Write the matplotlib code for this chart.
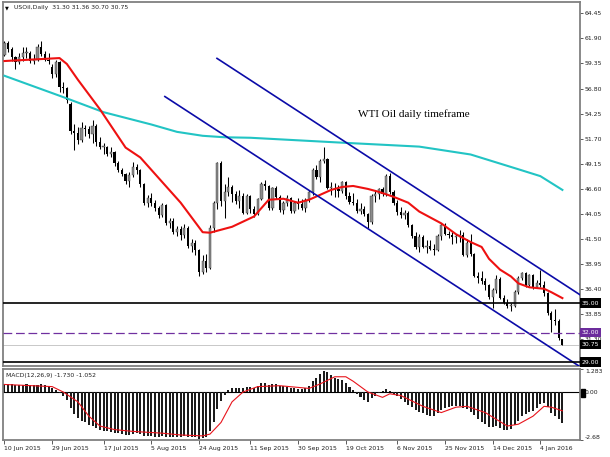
import numpy as np
import matplotlib
import matplotlib.pyplot as plt
from matplotlib.patches import Rectangle

matplotlib.use('Agg')
plt.rcParams['font.family'] = ['DejaVu Sans']

# daily bars, 10 Jun 2015 .. 12 Jan 2016
opens = [60.2, 61.4, 60.8, 60.0, 59.5, 60.0, 60.4, 60.4, 59.6, 59.7,
         61.0, 60.3, 59.7, 59.0, 58.3, 59.5, 57.0, 56.9, 55.2, 52.5,
         52.3, 51.6, 52.8, 52.7, 52.2, 53.0, 51.4, 50.9, 50.9, 50.2,
         50.4, 49.2, 48.5, 48.1, 47.4, 48.0, 48.8, 48.5, 47.1, 45.2,
         45.7, 45.2, 44.7, 43.9, 45.0, 43.1, 43.3, 42.2, 42.5, 41.9,
         42.6, 40.8, 41.1, 40.4, 38.2, 39.3, 38.6, 42.6, 45.2, 49.2,
         45.4, 46.3, 46.8, 46.1, 45.4, 45.9, 44.2, 45.9, 44.6, 44.0,
         45.6, 47.1, 46.9, 44.7, 46.7, 45.8, 44.5, 45.2, 45.7, 44.4,
         45.2, 45.1, 44.7, 45.5, 46.3, 48.5, 47.8, 49.4, 49.6, 46.7,
         46.7, 46.6, 46.4, 47.3, 45.9, 45.3, 45.2, 44.4, 44.6, 44.0,
         43.2, 45.9, 46.1, 46.6, 46.1, 47.9, 46.3, 45.2, 44.3, 43.9,
         44.2, 42.9, 41.8, 40.7, 41.7, 40.7, 40.8, 40.5, 40.4, 41.8,
         42.9, 42.0, 41.9, 41.7, 41.7, 41.9, 39.9, 41.1, 40.0, 37.7,
         37.5, 37.2, 36.8, 35.6, 36.3, 37.4, 35.5, 35.0, 34.7, 34.7,
         36.1, 37.5, 38.1, 36.8, 37.9, 36.6, 37.0, 36.8, 36.0, 34.0,
         33.3, 33.2, 31.30]
highs = [61.6, 61.6, 61.0, 60.1, 60.4, 61.0, 61.0, 60.6, 60.3, 61.3,
         61.6, 60.6, 60.4, 59.3, 59.7, 59.6, 57.5, 57.0, 55.4, 53.2,
         52.9, 53.4, 53.1, 53.0, 53.6, 53.2, 51.9, 51.3, 51.0, 50.9,
         50.5, 49.4, 48.7, 48.2, 48.3, 49.3, 49.1, 48.6, 47.2, 46.0,
         46.2, 45.5, 44.9, 45.2, 45.1, 43.6, 43.6, 42.8, 42.8, 43.0,
         42.8, 41.5, 41.4, 40.5, 39.9, 40.0, 42.9, 45.4, 49.3, 49.4,
         47.1, 47.8, 47.0, 46.4, 46.5, 46.2, 46.1, 46.0, 44.9, 45.7,
         47.3, 47.5, 47.0, 46.8, 46.9, 46.0, 45.4, 46.0, 45.8, 45.4,
         45.7, 45.6, 45.7, 46.5, 48.7, 49.0, 49.6, 50.9, 49.7, 47.3,
         47.2, 47.0, 47.4, 47.4, 46.3, 46.2, 45.6, 45.2, 44.9, 44.2,
         46.1, 46.5, 46.7, 46.8, 48.1, 48.2, 46.5, 45.5, 44.8, 44.5,
         44.4, 43.0, 42.2, 42.0, 41.9, 41.4, 41.4, 41.0, 42.0, 43.1,
         43.1, 42.3, 42.2, 42.0, 42.4, 42.2, 41.5, 42.0, 40.1, 38.2,
         38.3, 37.5, 36.9, 36.5, 37.8, 37.6, 35.8, 35.4, 35.0, 36.3,
         37.7, 38.2, 38.2, 38.0, 38.0, 37.3, 38.4, 37.2, 36.1, 34.2,
         34.4, 33.4, 31.36]
lows = [60.1, 60.5, 59.6, 58.8, 59.3, 59.6, 59.9, 59.4, 59.3, 59.6,
        60.1, 59.6, 59.3, 57.9, 58.0, 56.5, 56.4, 55.3, 52.2, 50.6,
        51.2, 51.4, 52.0, 51.8, 51.3, 51.0, 50.7, 50.2, 49.9, 49.8,
        48.9, 48.3, 47.9, 47.1, 46.8, 47.8, 48.1, 46.8, 45.0, 44.8,
        44.9, 44.4, 43.6, 43.7, 42.9, 42.6, 42.0, 41.8, 41.4, 41.6,
        40.6, 40.2, 39.9, 37.7, 38.0, 38.2, 38.5, 42.2, 44.6, 44.9,
        43.6, 45.9, 45.3, 45.1, 44.7, 44.1, 44.0, 44.2, 43.7, 43.9,
        45.5, 46.5, 44.5, 44.5, 45.6, 44.3, 44.0, 44.9, 44.2, 44.2,
        44.6, 44.5, 44.3, 45.3, 46.0, 47.6, 47.3, 49.2, 46.6, 46.0,
        45.8, 45.8, 46.2, 45.6, 45.1, 45.0, 44.2, 44.1, 43.8, 42.6,
        43.0, 45.3, 45.6, 45.9, 45.9, 46.1, 45.0, 43.9, 43.6, 43.5,
        42.7, 41.6, 40.5, 40.2, 40.6, 40.1, 40.4, 39.9, 40.3, 41.4,
        41.9, 41.6, 41.0, 41.1, 41.2, 39.8, 39.7, 39.8, 37.6, 37.0,
        36.9, 36.3, 35.4, 34.5, 36.0, 35.4, 34.9, 34.5, 34.2, 34.6,
        35.9, 37.3, 36.6, 36.7, 36.4, 36.5, 36.6, 35.7, 33.8, 32.1,
        32.8, 31.2, 30.70]
closes = [61.4, 60.8, 60.0, 59.5, 60.0, 60.4, 60.4, 59.6, 59.7, 61.0,
          60.3, 59.7, 59.6, 58.3, 59.5, 57.0, 56.9, 55.6, 52.5, 52.3,
          51.6, 52.8, 52.7, 52.2, 53.0, 51.4, 50.9, 50.9, 50.2, 50.4,
          49.2, 48.5, 48.1, 47.4, 48.0, 48.8, 48.5, 47.1, 45.2, 45.7,
          45.2, 44.7, 43.9, 45.0, 43.1, 43.3, 42.2, 42.5, 41.9, 42.6,
          40.8, 41.1, 40.4, 38.2, 39.3, 38.6, 42.6, 45.2, 49.2, 45.4,
          46.3, 46.8, 46.1, 45.4, 45.9, 44.2, 45.9, 44.6, 44.0, 45.6,
          47.1, 46.9, 44.7, 46.7, 45.8, 44.5, 45.2, 45.7, 44.4, 45.2,
          45.1, 44.7, 45.5, 46.3, 48.5, 47.8, 49.4, 49.6, 46.7, 46.7,
          46.6, 46.4, 47.3, 45.9, 45.3, 45.2, 44.4, 44.6, 44.0, 43.2,
          45.9, 46.1, 46.6, 46.1, 47.9, 46.3, 45.2, 44.3, 43.9, 44.2,
          42.9, 41.8, 40.7, 41.7, 40.7, 40.8, 40.5, 40.4, 41.8, 42.9,
          42.0, 41.9, 41.7, 41.7, 41.9, 39.9, 41.1, 40.0, 37.7, 37.5,
          37.2, 36.8, 35.6, 36.3, 37.4, 35.5, 35.0, 34.7, 34.7, 36.1,
          37.5, 38.1, 36.8, 37.9, 36.6, 37.0, 36.8, 36.0, 34.0, 33.3,
          33.2, 31.4, 30.75]

# moving averages (bar index, price)
red_ma_bars = [0, 15, 17, 20, 24, 26, 33, 37, 48, 54, 56, 59, 62, 68, 72, 76, 80, 83,
               86, 89, 92, 95, 99, 102, 106, 110, 113, 119, 123, 127, 130, 132, 135,
               138, 140, 143, 147, 149, 152]
red_ma = [59.6, 59.9, 59.3, 57.7, 55.7, 54.7, 50.8, 49.8, 45.2, 42.2, 42.15, 42.45, 42.75,
          43.8, 45.5, 45.6, 45.2, 45.5, 46.0, 46.5, 46.8, 46.9, 46.6, 46.3, 45.8, 45.2,
          44.3, 43.1, 42.0, 41.2, 40.7, 39.5, 38.4, 37.7, 37.0, 36.6, 36.45, 36.1, 35.5]
cyan_ma_bars = [0, 17, 27, 40, 47, 54, 60, 67, 92, 113, 127, 140, 146, 152]
cyan_ma = [58.1, 55.8, 54.4, 53.15, 52.4, 52.0, 51.85, 51.8, 51.3, 50.9, 50.1, 48.6, 47.9, 46.5]

# channel trend lines
upper_bars = [57.9, 156.8]
upper_prices = [59.87, 35.84]
lower_bars = [43.7, 156.8]
lower_prices = [55.99, 28.53]

macd_hist = [0.45, 0.44, 0.42, 0.40, 0.40, 0.41, 0.42, 0.40, 0.38, 0.40,
             0.42, 0.38, 0.33, 0.20, 0.10, -0.05, -0.20, -0.45, -0.90, -1.25,
             -1.45, -1.60, -1.70, -1.85, -1.90, -2.00, -2.10, -2.15, -2.20, -2.25,
             -2.30, -2.30, -2.35, -2.40, -2.40, -2.35, -2.30, -2.35, -2.45, -2.45,
             -2.45, -2.50, -2.50, -2.45, -2.50, -2.50, -2.50, -2.50, -2.50, -2.45,
             -2.50, -2.50, -2.50, -2.60, -2.55, -2.50, -2.20, -1.70, -0.95, -0.50,
             -0.15, 0.10, 0.20, 0.25, 0.25, 0.20, 0.30, 0.30, 0.25, 0.35,
             0.50, 0.50, 0.40, 0.45, 0.45, 0.35, 0.35, 0.30, 0.20, 0.20,
             0.15, 0.15, 0.20, 0.35, 0.60, 0.80, 1.00, 1.15, 1.10, 0.95,
             0.80, 0.70, 0.65, 0.50, 0.30, 0.10, -0.10, -0.30, -0.45, -0.55,
             -0.35, -0.20, -0.05, 0.05, 0.15, 0.05, -0.10, -0.25, -0.40, -0.55,
             -0.70, -0.85, -1.00, -1.10, -1.20, -1.30, -1.35, -1.35, -1.20, -1.00,
             -0.90, -0.85, -0.80, -0.80, -0.80, -0.90, -0.95, -1.10, -1.30, -1.50,
             -1.65, -1.80, -1.95, -1.95, -1.90, -2.00, -2.10, -2.10, -2.05, -1.85,
             -1.60, -1.35, -1.25, -1.10, -1.05, -0.90, -0.65, -0.60, -0.85, -1.15,
             -1.35, -1.50, -1.73]
signal_bars = [0, 13, 16, 20, 23, 26, 30, 35, 43, 48, 54, 56, 59, 62, 65, 69, 75, 83,
               86, 90, 93, 95, 99, 103, 105, 108, 114, 119, 123, 126, 131, 135, 137,
               140, 144, 147, 149, 152]
signal = [0.42, 0.30, 0.0, -0.55, -1.35, -1.90, -2.10, -2.20, -2.30, -2.40, -2.45,
          -2.35, -1.70, -0.55, 0.0, 0.30, 0.35, 0.20, 0.45, 0.85, 0.85, 0.60, 0.0,
          -0.30, -0.10, -0.20, -0.80, -1.15, -0.85, -0.80, -1.15, -1.65, -1.90, -1.80,
          -1.35, -0.80, -0.85, -1.05]

date_ticks = [0, 13, 27, 40, 53, 67, 80, 93, 107, 120, 133, 146]
date_labels = ['10 Jun 2015', '29 Jun 2015', '17 Jul 2015', '5 Aug 2015',
               '24 Aug 2015', '11 Sep 2015', '30 Sep 2015', '19 Oct 2015',
               '6 Nov 2015', '25 Nov 2015', '14 Dec 2015', '4 Jan 2016']
price_ticks = [64.45, 61.90, 59.35, 56.80, 54.25, 51.70, 49.15, 46.60, 44.05,
               41.50, 38.95, 36.40, 33.85, 31.30]

fig = plt.figure(figsize=(6.1, 4.57), dpi=100)
ax = fig.add_axes([3/610, 1 - 366/457, 577/610, 364/457])
ax2 = fig.add_axes([3/610, 1 - 440/457, 577/610, 71/457])

x = np.arange(len(closes))
o = np.array(opens)
c = np.array(closes)
up = c >= o
body = np.maximum(np.abs(c - o), 0.07)

ax.vlines(x, lows, highs, color='black', lw=0.75, zorder=2)
ax.bar(x[up], body[up], bottom=o[up], width=0.6, color='#8c8c8c',
       edgecolor='#3a3a3a', lw=0.3, zorder=3)
ax.bar(x[~up], body[~up], bottom=c[~up], width=0.6, color='black', zorder=3)

ax.plot(cyan_ma_bars, cyan_ma, color='#22c4c4', lw=1.5, zorder=4)
ax.plot(red_ma_bars, red_ma, color='#ee1111', lw=1.5, zorder=4)
ax.plot(upper_bars, upper_prices, color='#0b0ba8', lw=1.2, zorder=5)
ax.plot(lower_bars, lower_prices, color='#0b0ba8', lw=1.2, zorder=5)

ax.axhline(35.00, color='black', lw=1.2, zorder=5)
ax.axhline(29.00, color='black', lw=1.2, zorder=5)
ax.axhline(32.00, color='#7030a0', lw=0.9, dashes=(7, 3), zorder=5)
ax.axhline(30.75, color='#c8c8c8', lw=0.7, zorder=1)

ax.set_xlim(-0.4, 156.8)
ax.set_ylim(28.6, 65.6)
ax.set_xticks([])
ax.yaxis.tick_right()
ax.set_yticks(price_ticks)
ax.set_yticklabels([f'{p:.2f}' for p in price_ticks])
ax.tick_params(axis='y', direction='out', length=2, width=0.6, color='#404040',
               pad=1.5, labelsize=4.4, labelcolor='#202020')

for price, col in [(35.00, 'black'), (32.00, '#6c2c9c'), (30.75, 'black'), (29.00, 'black')]:
    ax.annotate(f'{price:.2f}', xy=(1, price), xycoords=('axes fraction', 'data'),
                xytext=(1.2, 0), textcoords='offset points', va='center', ha='left',
                color='white', fontsize=4.4, zorder=10, annotation_clip=False,
                bbox=dict(boxstyle='square,pad=0.35', fc=col, ec='none'))

ax.text(355/577, 1 - 112/364, 'WTI Oil daily timeframe', transform=ax.transAxes,
        family='Liberation Serif', fontsize=8, va='center', ha='left')

fig.text(5/610, 1 - 8/457, '\u25bc', fontsize=3.6, va='center', ha='left')
fig.text(14/610, 1 - 8/457, 'USOil,Daily  31.30 31.36 30.70 30.75', fontsize=4.4,
         va='center', ha='left', color='#202020')

# MACD window
ax2.bar(x, macd_hist, width=0.55, color='#1c1c1c', zorder=2)
ax2.plot(signal_bars, signal, color='#e8141c', lw=0.8, zorder=3)
ax2.axhline(0, color='black', lw=0.8, zorder=1)
ax2.set_xlim(-0.4, 156.8)
ax2.set_ylim(-2.68, 1.283)
ax2.yaxis.tick_right()
ax2.set_yticks([1.283, 0, -2.68])
ax2.set_yticklabels(['1.283', '0.00', '-2.68'])
ax2.tick_params(axis='y', direction='out', length=2, width=0.6, color='#404040',
                pad=1.5, labelsize=4.4, labelcolor='#202020')
ylabs = ax2.get_yticklabels()
ylabs[0].set_va('top')
ylabs[2].set_va('bottom')
ax2.set_xticks(date_ticks)
ax2.set_xticklabels(date_labels, ha='left')
ax2.tick_params(axis='x', direction='out', length=3, width=0.6, color='#404040',
                pad=1.5, labelsize=4.4, labelcolor='#202020')
fig.text(6/610, 1 - 376/457, 'MACD(12,26,9) -1.730 -1.052', fontsize=4.4,
         va='center', ha='left', color='#202020')
fig.add_artist(Rectangle((581/610, 1 - 397/457), 4/610, 8/457, color='black',
                         transform=fig.transFigure, zorder=5))

for a in (ax, ax2):
    for s in a.spines.values():
        s.set_color('#808080')
        s.set_linewidth(1.3)

fig.savefig('out.png', dpi=100)
